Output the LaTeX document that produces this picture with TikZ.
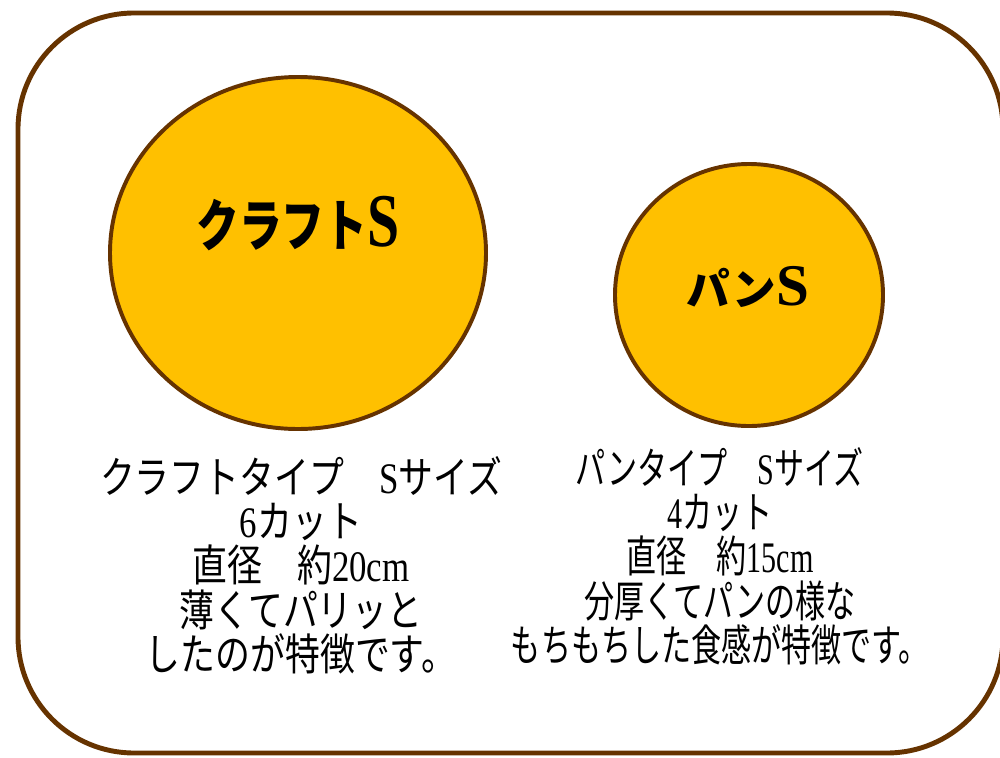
\documentclass[tikz,border=0pt]{standalone}
\usepackage{fontspec}
\setmainfont{Noto Sans CJK JP}
\newfontfamily\jpfont{Noto Sans CJK JP}
\newfontfamily\latfont{Liberation Serif}
\usepackage{xcolor}
\definecolor{crustGold}{HTML}{FFC000}
\definecolor{crustBrown}{HTML}{663300}

\tikzset{
 pizza/.style={draw=crustBrown, fill=crustGold, line width=2.8pt},
 pizzaname/.style={font=\jpfont\bfseries\fontsize{40}{40}\selectfont},
 pizzainfo/.style={align=center, font=\jpfont\fontsize{31}{31.5}\selectfont}
}

\begin{document}
\begin{tikzpicture}[x=0.025cm,y=-0.025cm]
 % Frame
 \useasboundingbox (0,0) rectangle (1000,757);
 \clip (0,0) rectangle (1000,757);
 \draw[draw=crustBrown, line width=3.5pt, rounded corners=2.9cm] (18,13) rectangle (1003,753);
 % Craft type
 \draw[pizza] (298,253) ellipse [x radius=188, y radius=176];
 \node[pizzaname, xscale=0.76] (craftName) at (298,224) {クラフト{\latfont\bfseries\fontsize{54}{54}\selectfont S}};
 \node[pizzainfo, xscale=0.8] (craftInfo) at (301,565) {クラフトタイプ　{\latfont S}サイズ\\
  {\latfont 6}カット\\
  直径　約{\latfont 20cm}\\
  薄くてパリッと\\
  したのが特徴です。};
 % Pan type
 \draw[pizza] (749,295) ellipse [x radius=134, y radius=131];
 \node[pizzaname, font=\jpfont\bfseries\fontsize{31}{31}\selectfont] (panName) at (748,287) {パン{\latfont\bfseries\fontsize{42}{42}\selectfont S}};
 \node[pizzainfo, xscale=0.69] (panInfo) at (720,556) {パンタイプ　{\latfont S}サイズ\\
  {\latfont 4}カット\\
  直径　約{\latfont 15cm}\\
  分厚くてパンの様な\\
  もちもちした食感が特徴です。};
\end{tikzpicture}
\end{document}
